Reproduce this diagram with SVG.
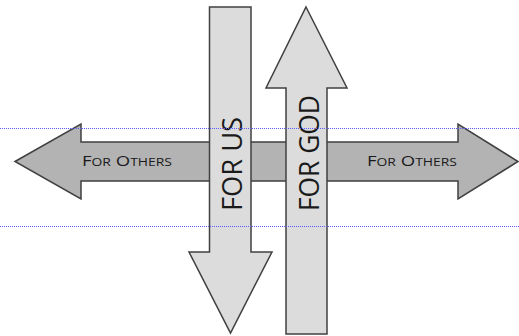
<svg xmlns="http://www.w3.org/2000/svg" width="519" height="336" viewBox="0 0 519 336">
<style>
.arrow{stroke:#404040;stroke-width:1.5;stroke-linejoin:miter}
.h{fill:#b3b3b3}
.v{fill:#dcdcdc}
.t{font-family:"Open Sans","DejaVu Sans",sans-serif;fill:#1a1a1a}
.guide{stroke:#5a5aff;stroke-width:1;stroke-dasharray:1 1}
</style>
<rect width="519" height="336" fill="#ffffff"/>
<g id="for-others">
<polygon class="arrow h" points="15,161.5 81,124 81,142 458,142 458,124 518,161.5 458,199 458,181 81,181 81,199"/>
<text class="t" x="82" y="166" font-size="14" textLength="90" lengthAdjust="spacingAndGlyphs">F<tspan font-size="10.5">OR</tspan> O<tspan font-size="10.5">THERS</tspan></text>
<text class="t" x="367" y="166" font-size="14" textLength="90" lengthAdjust="spacingAndGlyphs">F<tspan font-size="10.5">OR</tspan> O<tspan font-size="10.5">THERS</tspan></text>
</g>
<g id="for-us">
<polygon class="arrow v" points="209.5,7 251,7 251,252 272,252 230.5,333 189,252 209.5,252"/>
<text class="t" transform="translate(241.5,211) rotate(-90)" font-size="28" textLength="94" lengthAdjust="spacingAndGlyphs">FOR US</text>
</g>
<g id="for-god">
<polygon class="arrow v" points="306,7 347,88 327,88 327,334 286,334 286,88 266,88"/>
<text class="t" transform="translate(318.5,211) rotate(-90)" font-size="28" textLength="116" lengthAdjust="spacingAndGlyphs">FOR GOD</text>
</g>
<g id="connectors"></g>
<g id="guides">
<line class="guide" x1="0" y1="128.5" x2="519" y2="128.5"/>
<line class="guide" x1="0" y1="226.5" x2="519" y2="226.5"/>
</g>
</svg>
